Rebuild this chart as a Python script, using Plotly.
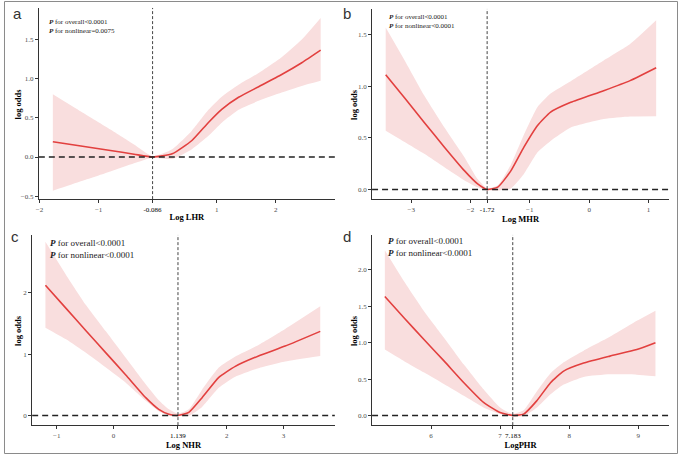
import plotly.graph_objects as go

W, H = 679, 457

# ---------------- data ----------------
# Panel a: Log LHR
a_x = [-1.775, -1.3, -0.8, -0.4, -0.086, 0.246, 0.58, 0.86, 1.09, 1.37, 1.71, 2.1, 2.44, 2.76]
a_y = [0.194, 0.14, 0.083, 0.036, 0.0, 0.04, 0.21, 0.44, 0.61, 0.76, 0.895, 1.05, 1.2, 1.36]
a_lo = [-0.43, -0.31, -0.185, -0.08, -0.01, -0.025, 0.10, 0.27, 0.44, 0.60, 0.715, 0.82, 0.905, 0.97]
a_hi = [0.80, 0.58, 0.35, 0.16, 0.01, 0.10, 0.335, 0.60, 0.77, 0.92, 1.07, 1.27, 1.495, 1.77]
a_ref = -0.086
a_xticks = [-2, -1, -0.086, 1, 2]
a_xlabels = ["−2", "−1", "-0.086", "1", "2"]
a_yticks = [-0.5, 0, 0.5, 1.0, 1.5]
a_ylabels = ["−0.5", "0.0", "0.5", "1.0", "1.5"]

# Panel b: Log MHR
b_x = [-3.43, -3.11, -2.78, -2.44, -2.1, -1.88, -1.72, -1.54, -1.32, -1.10, -0.87, -0.65, -0.31, 0.245, 0.69, 1.13]
b_y = [1.113, 0.887, 0.65, 0.41, 0.18, 0.054, 0.0, 0.022, 0.18, 0.41, 0.62, 0.75, 0.845, 0.958, 1.055, 1.18]
b_lo = [0.57, 0.46, 0.345, 0.215, 0.087, 0.02, -0.01, -0.01, 0.01, 0.15, 0.36, 0.47, 0.60, 0.683, 0.707, 0.71]
b_hi = [1.57, 1.25, 0.91, 0.60, 0.31, 0.10, 0.01, 0.04, 0.24, 0.53, 0.80, 0.93, 1.05, 1.25, 1.41, 1.64]
b_ref = -1.72
b_xticks = [-3, -2, -1.72, -1, 0, 1]
b_xlabels = ["−3", "−2", "-1.72", "−1", "0", "1"]
b_yticks = [0, 0.5, 1.0, 1.5]
b_ylabels = ["0.0", "0.5", "1.0", "1.5"]

# Panel c: Log NHR
c_x = [-1.20, -0.836, -0.485, -0.133, 0.218, 0.57, 0.80, 0.98, 1.139, 1.33, 1.565, 1.86, 2.15, 2.56, 3.03, 3.65]
c_y = [2.12, 1.745, 1.38, 1.02, 0.66, 0.29, 0.10, 0.02, 0.0, 0.05, 0.29, 0.62, 0.80, 0.97, 1.13, 1.37]
c_lo = [1.43, 1.24, 1.02, 0.78, 0.535, 0.24, 0.07, 0.0, -0.01, -0.005, 0.14, 0.45, 0.63, 0.77, 0.88, 0.97]
c_hi = [2.83, 2.29, 1.80, 1.37, 0.94, 0.51, 0.25, 0.10, 0.03, 0.10, 0.42, 0.78, 0.96, 1.15, 1.41, 1.78]
c_ref = 1.139
c_xticks = [-1, 0, 1.139, 2, 3]
c_xlabels = ["−1", "0", "1.139", "2", "3"]
c_yticks = [0, 1, 2]
c_ylabels = ["0", "1", "2"]

# Panel d: LogPHR
d_x = [5.33, 5.61, 5.90, 6.19, 6.475, 6.76, 7.0, 7.183, 7.34, 7.53, 7.73, 7.92, 8.21, 8.59, 8.98, 9.25]
d_y = [1.635, 1.34, 1.04, 0.746, 0.45, 0.18, 0.04, 0.0, 0.018, 0.20, 0.45, 0.61, 0.72, 0.815, 0.905, 1.0]
d_lo = [0.906, 0.746, 0.59, 0.43, 0.27, 0.11, 0.02, -0.01, -0.01, 0.105, 0.29, 0.425, 0.53, 0.565, 0.56, 0.54]
d_hi = [2.27, 1.84, 1.43, 1.066, 0.70, 0.36, 0.11, 0.02, 0.07, 0.33, 0.58, 0.73, 0.89, 1.08, 1.30, 1.44]
d_ref = 7.183
d_xticks = [6, 7, 7.183, 8, 9]
d_xlabels = ["6", "7", "7.183", "8", "9"]
d_yticks = [0, 0.5, 1.0, 1.5, 2.0]
d_ylabels = ["0.0", "0.5", "1.0", "1.5", "2.0"]

panel_letters = ["a", "b", "c", "d"]
x_titles = ["Log LHR", "Log MHR", "Log NHR", "LogPHR"]
y_title = "log odds"
p_overall = ["<0.0001", "<0.0001", "<0.0001", "<0.0001"]
p_nonlinear = ["=0.0075", "<0.0001", "<0.0001", "<0.0001"]

# ---------------- layout geometry (pixels) ----------------
panels = [
    dict(x=a_x, y=a_y, lo=a_lo, hi=a_hi, ref=a_ref, xt=a_xticks, xl=a_xlabels, yt=a_yticks, yl=a_ylabels,
         xr=[-2.012, 3.0], yr=[-0.536, 1.897], px=(36, 333.3), py=(8, 200),
         letter=(15, 14), ytitle=(15, 104), ptxt=(45, 26.7), pfs=7),
    dict(x=b_x, y=b_y, lo=b_lo, hi=b_hi, ref=b_ref, xt=b_xticks, xl=b_xlabels, yt=b_yticks, yl=b_ylabels,
         xr=[-3.66, 1.347], yr=[-0.094, 1.75], px=(370.7, 669), py=(9, 200),
         letter=(346, 14), ytitle=(352.5, 104.5), ptxt=(387, 22), pfs=7),
    dict(x=c_x, y=c_y, lo=c_lo, hi=c_hi, ref=c_ref, xt=c_xticks, xl=c_xlabels, yt=c_yticks, yl=c_ylabels,
         xr=[-1.434, 3.907], yr=[-0.157, 2.94], px=(29.3, 333.3), py=(236, 427),
         letter=(12, 238), ytitle=(15, 331.5), ptxt=(46, 249.7), pfs=9),
    dict(x=d_x, y=d_y, lo=d_lo, hi=d_hi, ref=d_ref, xt=d_xticks, xl=d_xlabels, yt=d_yticks, yl=d_ylabels,
         xr=[5.145, 9.447], yr=[-0.133, 2.48], px=(370.7, 669), py=(236, 427),
         letter=(346, 238), ytitle=(352.5, 331.5), ptxt=(386, 248.5), pfs=9),
]

SERIF = "Liberation Serif"
RED = "#e2403f"
BAND = "#f9dede"
TICKGRAY = "#4d4d4d"

fig = go.Figure()
layout = dict(width=W, height=H, margin=dict(l=0, r=0, t=0, b=0),
              paper_bgcolor="white", plot_bgcolor="white", showlegend=False,
              shapes=[], annotations=[])

def px2x(v):
    return v / W

def px2y(v):
    return 1 - v / H

for i, p in enumerate(panels):
    n = "" if i == 0 else str(i + 1)
    xa, ya = "x" + n, "y" + n
    # confidence band
    fig.add_trace(go.Scatter(x=p["x"], y=p["lo"], mode="lines", line=dict(width=0, shape="spline", smoothing=0.5),
                             xaxis=xa, yaxis=ya, hoverinfo="skip"))
    fig.add_trace(go.Scatter(x=p["x"], y=p["hi"], mode="lines", line=dict(width=0, shape="spline", smoothing=0.5),
                             fill="tonexty", fillcolor=BAND, xaxis=xa, yaxis=ya, hoverinfo="skip"))
    # estimate
    fig.add_trace(go.Scatter(x=p["x"], y=p["y"], mode="lines",
                             line=dict(color=RED, width=1.6, shape="spline", smoothing=0.5),
                             xaxis=xa, yaxis=ya))

    xl = [("<span style='color:#000'>%s</span>" % t) if v == p["ref"] else t for v, t in zip(p["xt"], p["xl"])]
    layout["xaxis" + n] = dict(
        domain=[px2x(p["px"][0]), px2x(p["px"][1])], anchor=ya, range=p["xr"],
        showline=True, linecolor="#333", linewidth=1, ticks="outside", ticklen=3, tickcolor="#333",
        tickvals=p["xt"], ticktext=xl, tickfont=dict(family=SERIF, size=7, color=TICKGRAY),
        showgrid=False, zeroline=False, fixedrange=True,
        title=dict(text="<b>%s</b>" % x_titles[i], font=dict(family=SERIF, size=8.5, color="#000"), standoff=1),
    )
    layout["yaxis" + n] = dict(
        domain=[px2y(p["py"][1]), px2y(p["py"][0])], anchor=xa, range=p["yr"],
        showline=True, linecolor="#333", linewidth=1, ticks="outside", ticklen=3, tickcolor="#333",
        tickvals=p["yt"], ticktext=p["yl"], tickfont=dict(family=SERIF, size=7, color=TICKGRAY),
        showgrid=False, zeroline=False, fixedrange=True,
    )
    # reference lines
    layout["shapes"].append(dict(type="line", xref=xa, yref=ya + " domain", x0=p["ref"], x1=p["ref"], y0=0, y1=1,
                                 line=dict(color="#444", width=1, dash="3px,2px"), layer="above"))
    layout["shapes"].append(dict(type="line", xref=xa + " domain", yref=ya, x0=0, x1=1, y0=0, y1=0,
                                 line=dict(color="#222", width=1.5, dash="6px,4px"), layer="above"))
    # y title
    layout["annotations"].append(dict(text="<b>%s</b>" % y_title, textangle=-90, showarrow=False,
                                      xref="paper", yref="paper", x=px2x(p["ytitle"][0]), y=px2y(p["ytitle"][1]),
                                      xanchor="center", yanchor="middle",
                                      font=dict(family=SERIF, size=8.5, color="#000")))
    # panel letter
    layout["annotations"].append(dict(text=panel_letters[i], showarrow=False, xref="paper", yref="paper",
                                      x=px2x(p["letter"][0]), y=px2y(p["letter"][1]),
                                      xanchor="center", yanchor="middle",
                                      font=dict(family="Liberation Sans", size=15, color="#333")))
    # P-values
    txt = ("<b><i>P</i></b> for overall%s<br><b><i>P</i></b> for nonlinear%s" % (p_overall[i], p_nonlinear[i]))
    layout["annotations"].append(dict(text=txt, showarrow=False, xref="paper", yref="paper", align="left",
                                      x=px2x(p["ptxt"][0]), y=px2y(p["ptxt"][1]),
                                      xanchor="left", yanchor="middle", borderpad=0,
                                      font=dict(family=SERIF, size=p["pfs"], color="#222")))

# outer border
layout["shapes"].append(dict(type="rect", xref="paper", yref="paper",
                             x0=1.5 / W, x1=677.5 / W, y0=1 - 455.5 / H, y1=1 - 1.5 / H,
                             line=dict(color="#8a8a8a", width=1)))

fig.update_layout(**layout)
fig.write_html("out.html", config={"displayModeBar": False})

# remove the default page margin so the figure sits at the window origin
with open("out.html", "r", encoding="utf-8") as f:
    html = f.read()
html = html.replace("<head>", "<head><style>html,body{margin:0;padding:0;overflow:hidden;}</style>", 1)
with open("out.html", "w", encoding="utf-8") as f:
    f.write(html)
